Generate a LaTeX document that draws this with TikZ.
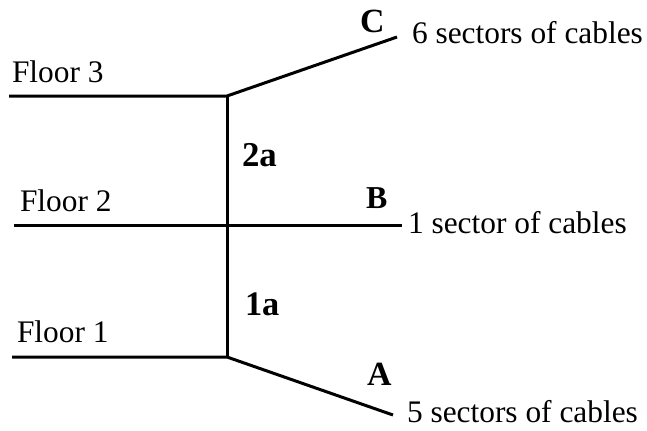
\documentclass[tikz,border=0pt]{standalone}
\usepackage{fontspec}
\setmainfont{Liberation Serif}
\begin{document}
\begin{tikzpicture}[x=1bp,y=-1bp,
  wire/.style={line width=3bp,line join=miter},
  lbl/.style={anchor=base west,inner sep=0pt,outer sep=0pt,font=\fontsize{31.5}{32}\selectfont},
  tag/.style={anchor=base west,inner sep=0pt,outer sep=0pt,font=\bfseries\fontsize{#1}{#1}\selectfont}]
\useasboundingbox (0,0) rectangle (647,430);
% junctions and ends
\coordinate (j3) at (227,96);
\coordinate (j2) at (227,225.5);
\coordinate (j1) at (227,357);
\coordinate (f3) at (9,96);
\coordinate (f2) at (14,225.5);
\coordinate (f1) at (12,357);
\coordinate (ec) at (397,37);
\coordinate (eb) at (402,225.5);
\coordinate (ea) at (393,415);
% wires
\draw[wire] (f3) -- (j3) -- (ec);
\draw[wire] (f2) -- (eb);
\draw[wire] (f1) -- (j1) -- (ea);
\draw[wire] (j3) -- (j1);
% labels
\node[lbl] (fl3) at (12,82) {Floor 3};
\node[lbl] (fl2) at (20,211) {Floor 2};
\node[lbl] (fl1) at (17,342) {Floor 1};
\node[lbl] (tc) at (412,43) {6 sectors of cables};
\node[lbl] (tb) at (408,233) {1 sector of cables};
\node[lbl] (ta) at (407,422) {5 sectors of cables};
\node[tag=34] (lc) at (360,32) {C};
\node[tag=32] (lb) at (366,208) {B};
\node[tag=34] (la) at (367,385) {A};
\node[tag=35] (l2a) at (242,166) {2a};
\node[tag=34.5] (l1a) at (245,315) {1a};
\end{tikzpicture}
\end{document}
